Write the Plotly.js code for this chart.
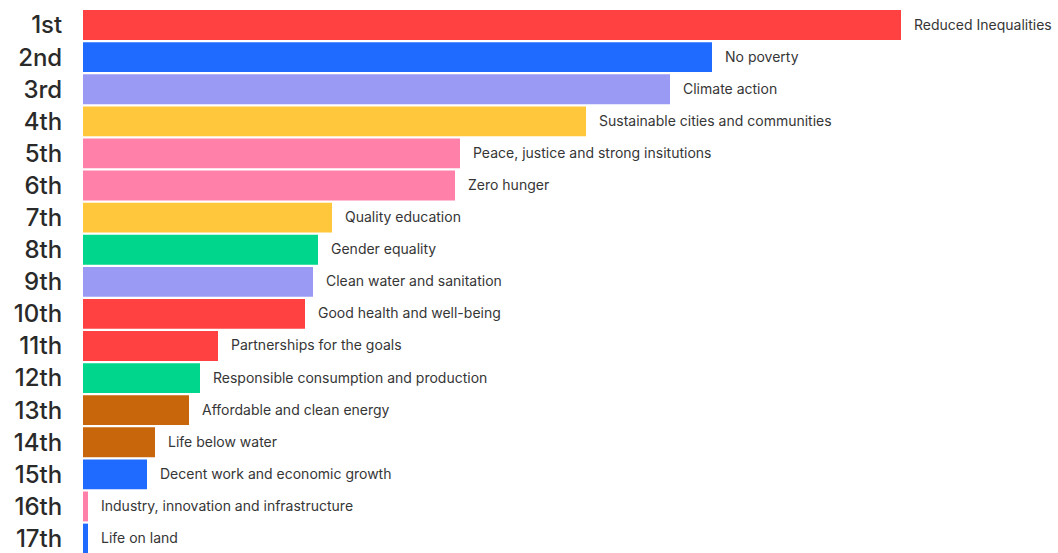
<!DOCTYPE html>
<html>
<head>
<meta charset="utf-8">
<script src="https://cdn.plot.ly/plotly-3.0.1.min.js"></script>
<style>html,body{margin:0;padding:0;background:#fff;}#chart{width:1058px;height:553px;}</style>
</head>
<body>
<div id="chart"></div>
<script>
var ranks = ["1st","2nd","3rd","4th","5th","6th","7th","8th","9th","10th","11th","12th","13th","14th","15th","16th","17th"];
var goals = ["Reduced Inequalities","No poverty","Climate action","Sustainable cities and communities","Peace, justice and strong insitutions","Zero hunger","Quality education","Gender equality","Clean water and sanitation","Good health and well-being","Partnerships for the goals","Responsible consumption and production","Affordable and clean energy","Life below water","Decent work and economic growth","Industry, innovation and infrastructure","Life on land"];
var scores = [818, 629, 587, 503, 377, 372, 249, 235, 230, 222, 135, 117, 106, 72, 64, 5, 5];
var barColors = ["#FF4141","#1F6BFF","#9A9AF5","#FFC83C","#FF80A8","#FF80A8","#FFC83C","#00D68C","#9A9AF5","#FF4141","#FF4141","#00D68C","#C8660C","#C8660C","#1F6BFF","#FF80A8","#1F6BFF"];

var trace = {
  type: 'bar',
  orientation: 'h',
  y: ranks,
  x: scores,
  marker: {color: barColors, line: {width: 0}},
  hoverinfo: 'none'
};

var annotations = goals.map(function(g, i){
  return {x: scores[i], y: ranks[i], xref: 'x', yref: 'y', text: g, showarrow: false,
    xanchor: 'left', yanchor: 'middle', xshift: 11, yshift: 1,
    font: {family: 'Inter, Roboto, sans-serif', size: 14, color: '#363636'}};
});

var layout = {
  width: 1058, height: 553,
  margin: {l: 83, r: 0, t: 9, b: 0, pad: 0},
  paper_bgcolor: '#ffffff', plot_bgcolor: '#ffffff',
  bargap: 0.07,
  showlegend: false,
  xaxis: {range: [0, 975], showgrid: false, zeroline: false, showticklabels: false, showline: false, fixedrange: true},
  yaxis: {type: 'category', range: [16.45, -0.5], showgrid: false, zeroline: false, showline: false,
    ticks: 'outside', ticklen: 15, tickcolor: 'rgba(0,0,0,0)',
    tickfont: {family: 'Inter, Roboto, sans-serif', size: 24, color: '#2a2a2a', weight: 500}},
  annotations: annotations
};

Plotly.newPlot('chart', [trace], layout, {displayModeBar: false, staticPlot: true});
</script>
</body>
</html>
